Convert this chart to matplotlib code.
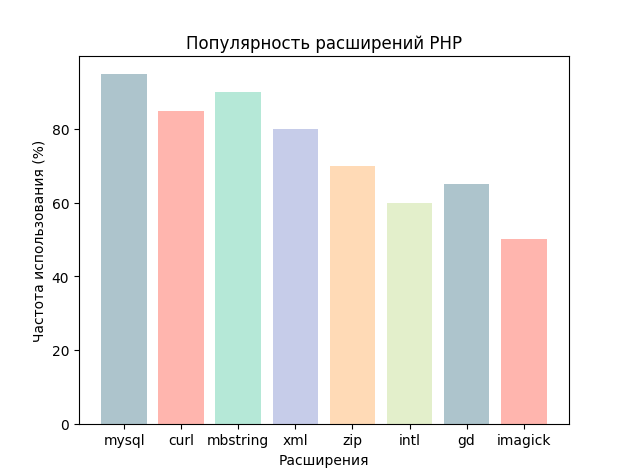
import matplotlib
matplotlib.use("Agg")
import matplotlib.pyplot as plt

extensions = ["mysql", "curl", "mbstring", "xml", "zip", "intl", "gd", "imagick"]
usage = [95, 85, 90, 80, 70, 60, 65, 50]
colors = ["#adc4cc", "#ffb5ae", "#b5e8d7", "#c6cce9", "#ffdab6", "#e3efcb", "#adc4cc", "#ffb5ae"]

fig, ax = plt.subplots(figsize=(6.32, 4.77), dpi=100)
ax.bar(extensions, usage, color=colors, width=0.8)
ax.set_title("Популярность расширений PHP")
ax.set_xlabel("Расширения")
ax.set_ylabel("Частота использования (%)")
fig.savefig("out.png", dpi=100)
